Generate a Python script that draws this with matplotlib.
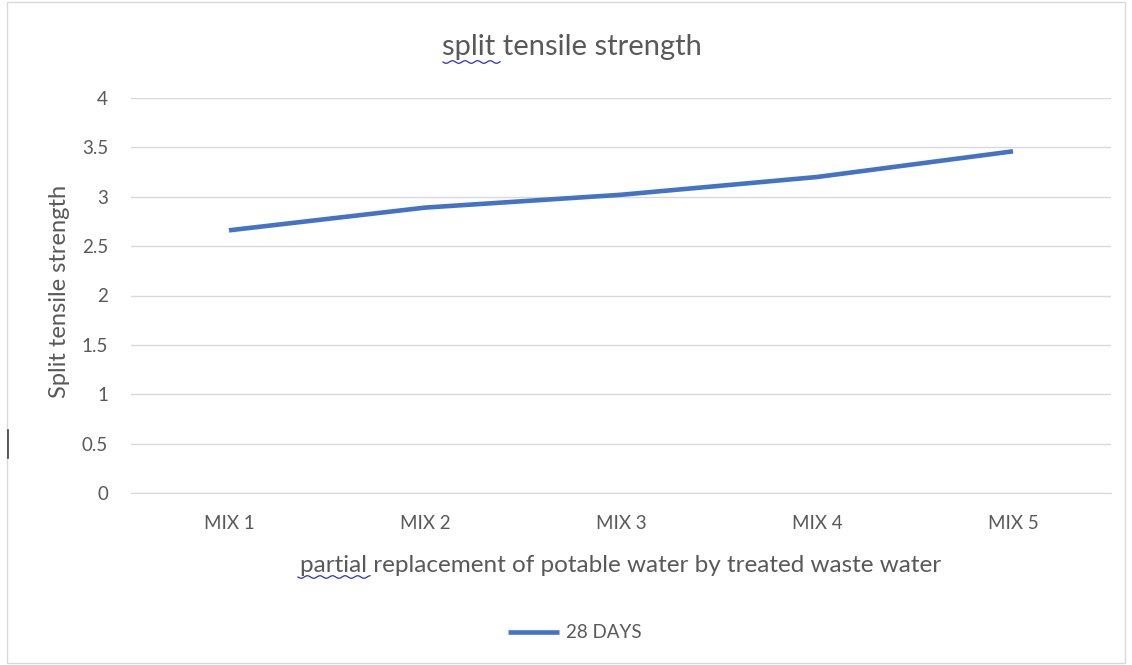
import numpy as np
import matplotlib
matplotlib.use('Agg')
import matplotlib.pyplot as plt
from matplotlib.patches import Rectangle

plt.rcParams['font.family'] = ['Lato', 'DejaVu Sans']

# data
mixes = ['MIX 1', 'MIX 2', 'MIX 3', 'MIX 4', 'MIX 5']
strength_28 = [2.66, 2.89, 3.02, 3.20, 3.46]
yticks = [0, 0.5, 1, 1.5, 2, 2.5, 3, 3.5, 4]

txt = '#595959'
W, H = 1132, 665

fig = plt.figure(figsize=(W / 100, H / 100), dpi=100)
ax = fig.add_axes([131 / W, 1 - 493 / H, (1111 - 131) / W, (493 - 98) / H])

x = np.arange(len(mixes))
ax.plot(x, strength_28, color='#4472C4', lw=3.3, solid_capstyle='butt', label='28 DAYS')

ax.set_xlim(-0.5, len(mixes) - 0.5)
ax.set_ylim(0, 4)
ax.set_yticks(yticks)
ax.set_yticklabels([f'{t:g}' for t in yticks])
ax.set_xticks(x)
ax.set_xticklabels(mixes)
ax.grid(axis='y', color='#D9D9D9', lw=1)
ax.set_axisbelow(True)
for s in ['top', 'right', 'left']:
    ax.spines[s].set_visible(False)
ax.spines['bottom'].set_color('#D9D9D9')
ax.tick_params(axis='both', length=0, labelsize=13.5, labelcolor=txt)
ax.tick_params(axis='y', pad=16.5)
ax.tick_params(axis='x', pad=16)

ax.set_xlabel('partial replacement of potable water by treated waste water',
              fontsize=17.5, color=txt, labelpad=10)
ax.xaxis.set_label_coords((621 - 131) / (1111 - 131), -(565 - 493) / (493 - 98))
ax.xaxis.label.set_va('center')
ax.set_ylabel('Split tensile strength', fontsize=17, color=txt)
ax.yaxis.set_label_coords(-(131 - 60) / (1111 - 131), (493 - 291) / (493 - 98))
ax.yaxis.label.set_va('center')
fig.text(572 / W, 1 - 47 / H, 'split tensile strength', fontsize=21, color=txt,
         ha='center', va='center')

leg = fig.legend(loc='center', bbox_to_anchor=(575 / W, 1 - 633 / H), frameon=False,
                 fontsize=13.5, handlelength=2.7, handletextpad=0.4)
for t in leg.get_texts():
    t.set_color(txt)

# spell-check squiggles
def squiggle(x0, x1, y):
    xs = np.linspace(x0, x1, 60)
    ys = y + 1.3 * np.sin((xs - x0) / 2.0)
    fig.add_artist(plt.Line2D(xs / W, 1 - ys / H, color='#2B2BD9', lw=0.9))

squiggle(443, 500, 62)
squiggle(298, 370, 577)

# chart border
fig.add_artist(Rectangle((7 / W, 2 / H), (1125 - 7) / W, (H - 4) / H, fill=False,
                         ec='#D9D9D9', lw=1, transform=fig.transFigure))
fig.add_artist(plt.Line2D([8 / W, 8 / W], [1 - 458 / H, 1 - 430 / H], color='#404040', lw=1.2))

fig.savefig('out.png', dpi=100)
